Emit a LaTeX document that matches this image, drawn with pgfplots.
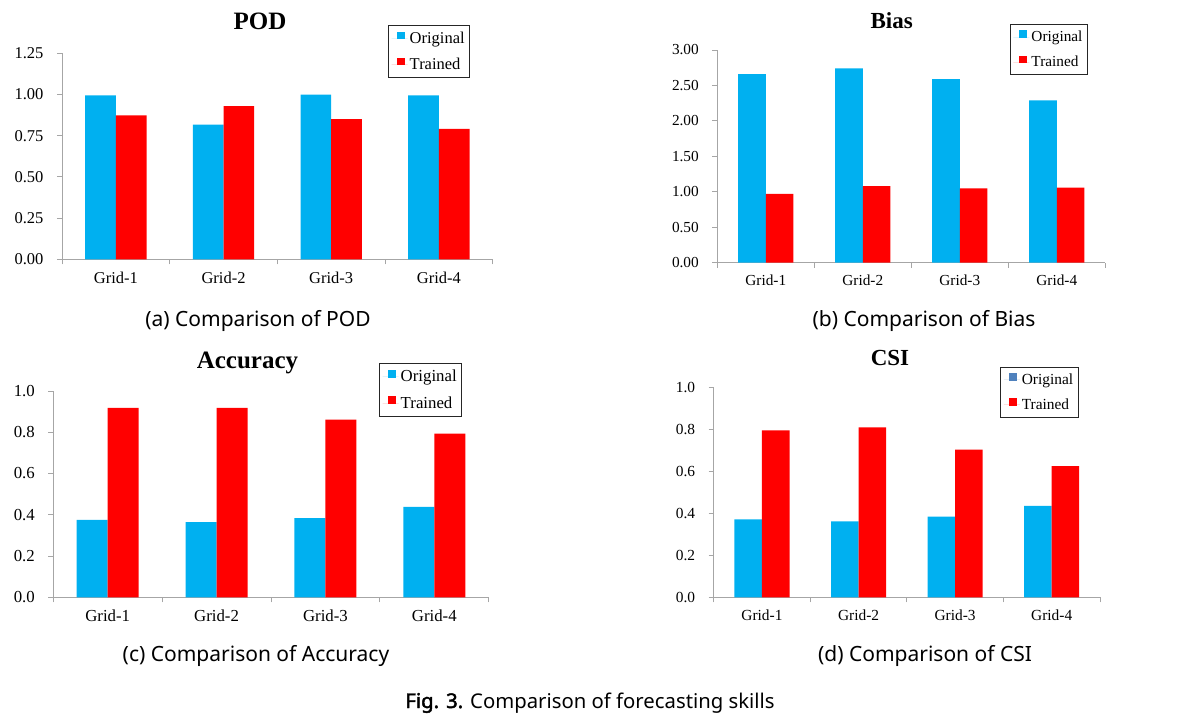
\documentclass[border=0pt]{standalone}
\usepackage{fontspec}
\setmainfont{Liberation Serif}
\newfontfamily\capfont{Noto Sans}
\newfontfamily\capbold{Noto Sans}[FakeBold=2.2]
\usepackage{pgfplots}
\pgfplotsset{compat=1.18}
\definecolor{origc}{HTML}{00B0F0}
\definecolor{trainc}{HTML}{FF0000}
\definecolor{csiblue}{HTML}{4F81BD}
\definecolor{axc}{HTML}{A6A6A6}

\pgfplotsset{
 panel/.style={
  scale only axis,
  ybar=0pt, bar width=0.285,
  xmin=-0.5, xmax=3.5, ymin=0,
  axis x line*=bottom, axis y line*=left,
  axis line style={draw=axc, line width=0.9pt},
  xtick={-0.5,0.5,1.5,2.5,3.5}, xticklabels={},
  extra x ticks={0,1,2,3},
  extra x tick labels={Grid-1,Grid-2,Grid-3,Grid-4},
  extra x tick style={major tick length=0pt},
  tick align=outside, major tick length=5pt,
  tick style={draw=axc, line width=0.9pt},
  x tick label style={font=\fontsize{#1}{#1}\selectfont, yshift=-9pt},
  y tick label style={font=\fontsize{#1}{#1}\selectfont, xshift=-10pt},
  /pgf/number format/assume math mode=true,
  legend image code/.code={\path (0pt,0pt) -- (16pt,0pt);\fill[##1] (5.5pt,-0.9pt) rectangle (13.2pt,6.8pt);},
  legend style={font=\fontsize{#1}{#1}\selectfont, draw=black!85, line width=0.9pt,
    anchor=north west, inner xsep=3pt, inner ysep=4.5pt, row sep=9pt, cells={anchor=west}},
  legend cell align=left,
 }
}

\begin{document}
\begin{tikzpicture}
\useasboundingbox (0pt,0pt) rectangle (1185pt,-717pt);

% (a) POD
\begin{axis}[panel=16.5,
  at={(62pt,-259.3pt)}, anchor=south west, width=430.7pt, height=206pt,
  ymax=1.25, ytick={0,0.25,0.5,0.75,1,1.25},
  yticklabel style={/pgf/number format/.cd, fixed, fixed zerofill, precision=2},
  legend style={at={(axis description cs:0.7576,1.137)}}]
\addplot[fill=origc, draw=none] coordinates {(0,0.995) (1,0.817) (2,1.000) (3,0.995)};
\addplot[fill=trainc, draw=none] coordinates {(0,0.874) (1,0.930) (2,0.850) (3,0.791)};
\legend{Original,Trained}
\end{axis}

% (b) Bias
\begin{axis}[panel=15.3,
  at={(717.3pt,-262.7pt)}, anchor=south west, width=388pt, height=212.7pt,
  ymax=3, ytick={0,0.5,1,1.5,2,2.5,3},
  yticklabel style={/pgf/number format/.cd, fixed, fixed zerofill, precision=2},
  legend style={at={(axis description cs:0.7544,1.121)}}]
\addplot[fill=origc, draw=none] coordinates {(0,2.66) (1,2.74) (2,2.59) (3,2.29)};
\addplot[fill=trainc, draw=none] coordinates {(0,0.97) (1,1.08) (2,1.05) (3,1.06)};
\legend{Original,Trained}
\end{axis}

% (c) Accuracy
\begin{axis}[panel=16.8,
  at={(53.3pt,-597.3pt)}, anchor=south west, width=435.4pt, height=206.3pt,
  ymax=1, ytick={0,0.2,0.4,0.6,0.8,1},
  yticklabel style={/pgf/number format/.cd, fixed, fixed zerofill, precision=1},
  legend style={at={(axis description cs:0.7487,1.134)}}]
\addplot[fill=origc, draw=none] coordinates {(0,0.375) (1,0.365) (2,0.384) (3,0.438)};
\addplot[fill=trainc, draw=none] coordinates {(0,0.918) (1,0.918) (2,0.861) (3,0.793)};
\legend{Original,Trained}
\end{axis}

% (d) CSI
\begin{axis}[panel=15.4,
  at={(713.7pt,-597.3pt)}, anchor=south west, width=386.3pt, height=209.6pt,
  ymax=1, ytick={0,0.2,0.4,0.6,0.8,1},
  yticklabel style={/pgf/number format/.cd, fixed, fixed zerofill, precision=1},
  legend style={at={(axis description cs:0.742,1.100)}}]
\addplot[fill=origc, draw=none, legend image post style={fill=csiblue}] coordinates {(0,0.372) (1,0.362) (2,0.385) (3,0.436)};
\addplot[fill=trainc, draw=none] coordinates {(0,0.797) (1,0.811) (2,0.704) (3,0.626)};
\legend{Original,Trained}
\end{axis}

% panel titles
\node[anchor=base, font=\bfseries\fontsize{25}{25}\selectfont] at (260pt,-30pt) {POD};
\node[anchor=base, font=\bfseries\fontsize{23}{23}\selectfont] at (891.7pt,-28.3pt) {Bias};
\node[anchor=base, font=\bfseries\fontsize{25}{25}\selectfont] at (247.5pt,-368.3pt) {Accuracy};
\node[anchor=base, font=\bfseries\fontsize{23}{23}\selectfont] at (890pt,-365pt) {CSI};

% captions
\node[anchor=base, font=\capfont\fontsize{21}{21}\selectfont] at (258pt,-326pt) {(a) Comparison of POD};
\node[anchor=base, font=\capfont\fontsize{21}{21}\selectfont] at (924pt,-326pt) {(b) Comparison of Bias};
\node[anchor=base, font=\capfont\fontsize{21}{21}\selectfont] at (256pt,-661pt) {(c) Comparison of Accuracy};
\node[anchor=base, font=\capfont\fontsize{21}{21}\selectfont] at (925pt,-661pt) {(d) Comparison of CSI};
\node[anchor=base, font=\capfont\fontsize{20.3}{20.3}\selectfont] at (590pt,-708pt) {{\capbold Fig. 3.} Comparison of forecasting skills};
\end{tikzpicture}
\end{document}
